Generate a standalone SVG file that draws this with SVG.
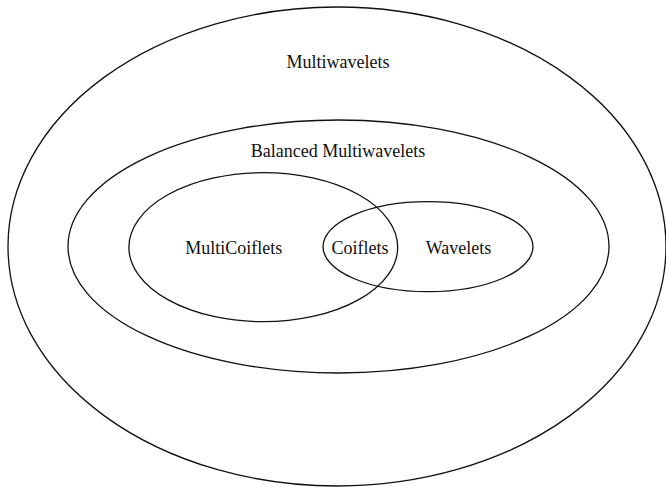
<svg xmlns="http://www.w3.org/2000/svg" width="666" height="487" viewBox="0 0 666 487">
<style>
.set{fill:none;stroke:#111;stroke-width:1.3}
.lbl{font-family:"Liberation Serif","Times New Roman",serif;font-size:18px;fill:#111;text-anchor:middle}
</style>
<rect width="666" height="487" fill="#fff"/>
<g id="multiwavelets">
<ellipse class="set" cx="337" cy="246.5" rx="329" ry="239.5"/>
<text class="lbl" x="338" y="67.5">Multiwavelets</text>
</g>
<g id="balanced">
<ellipse class="set" cx="338.5" cy="246.5" rx="270.5" ry="126.5"/>
<text class="lbl" x="338" y="157">Balanced Multiwavelets</text>
</g>
<g id="multicoiflets">
<ellipse class="set" cx="263.3" cy="247.2" rx="134.4" ry="74.5"/>
<text class="lbl" x="233.7" y="254">MultiCoiflets</text>
</g>
<g id="wavelets">
<ellipse class="set" cx="428" cy="246.7" rx="105" ry="45"/>
<text class="lbl" x="458.4" y="254">Wavelets</text>
</g>
<g id="coiflets">
<text class="lbl" x="360" y="254">Coiflets</text>
</g>
<g id="connectors"></g>
</svg>
